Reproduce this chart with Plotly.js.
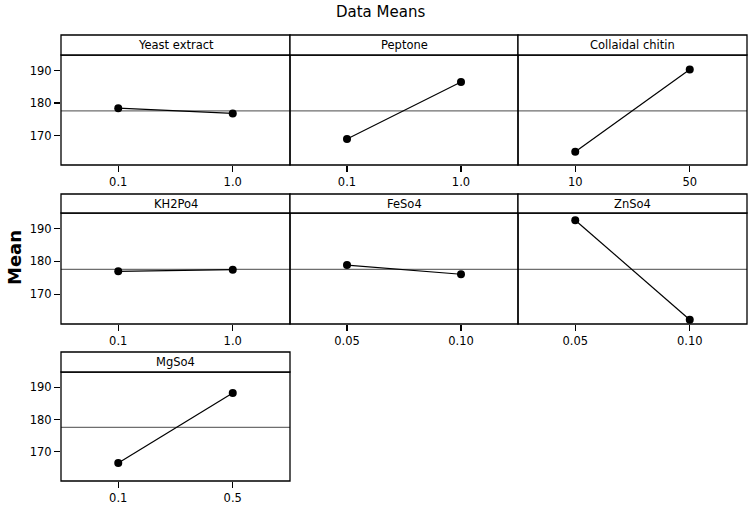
<!DOCTYPE html>
<html>
<head>
<meta charset="utf-8">
<script src="https://cdn.plot.ly/plotly-3.0.1.min.js"></script>
<style>body{margin:0;background:#fff}</style>
</head>
<body>
<div id="chart" style="width:749px;height:506px"></div>
<script>
// main effects plot, data means
var factorNames = ["Yeast extract", "Peptone", "Collaidal chitin", "KH2Po4", "FeSo4", "ZnSo4", "MgSo4"];
var levelLabels = [["0.1", "1.0"], ["0.1", "1.0"], ["10", "50"], ["0.1", "1.0"], ["0.05", "0.10"], ["0.05", "0.10"], ["0.1", "0.5"]];
var meanValues = [[178.4, 176.8], [168.9, 186.5], [165.0, 190.3], [177.0, 177.5], [178.9, 176.1], [192.6, 162.2], [166.5, 188.3]];
var grandMean = 177.6;
var yTicks = [170, 180, 190];

// pixel layout of the grid
var W = 749, H = 506;
var mL = 61, mR = 2, mT = 35, mB = 24;
var plotW = W - mL - mR, plotH = H - mT - mB;
var colEdges = [61, 290, 518, 747];
var headTop = [35, 194, 352];
var rowTop = [55, 213, 372];
var rowBot = [165, 324, 481];

function fx(px) { return (px - mL) / plotW; }
function fy(py) { return (H - mB - py) / plotH; }

var data = [];
var layout = {
  width: W, height: H,
  margin: {l: mL, r: mR, t: mT, b: mB},
  paper_bgcolor: "white", plot_bgcolor: "white",
  showlegend: false,
  font: {family: "DejaVu Sans", size: 11.5, color: "#000"},
  shapes: [], annotations: []
};

factorNames.forEach(function (name, i) {
  var n = i + 1;
  var row = Math.floor(i / 3), col = i % 3;
  var xk = n === 1 ? "xaxis" : "xaxis" + n;
  var yk = n === 1 ? "yaxis" : "yaxis" + n;
  var xr = n === 1 ? "x" : "x" + n;
  var yr = n === 1 ? "y" : "y" + n;

  data.push({
    x: levelLabels[i], y: meanValues[i],
    xaxis: xr, yaxis: yr,
    type: "scatter", mode: "lines+markers",
    line: {color: "#000", width: 1.2},
    marker: {color: "#000", size: 8},
    hoverinfo: "skip"
  });

  layout[xk] = {
    domain: [fx(colEdges[col]), fx(colEdges[col + 1])],
    anchor: yr, type: "category", range: [-0.5, 1.5],
    showline: false, showgrid: false, zeroline: false,
    ticks: "outside", ticklen: 6, tickcolor: "#000", tickwidth: 1.2,
    tickfont: {size: 11.5}
  };
  layout[yk] = {
    domain: [fy(rowBot[row]), fy(rowTop[row])],
    anchor: xr, range: [160.9, 194.8],
    tickvals: yTicks,
    showline: false, showgrid: false, zeroline: false,
    ticks: col === 0 ? "outside" : "", ticklen: 6, tickcolor: "#000", tickwidth: 1.2,
    showticklabels: col === 0,
    tickfont: {size: 11.5}
  };

  // grand mean reference line
  layout.shapes.push({
    type: "line", xref: xr + " domain", yref: yr, layer: "below",
    x0: 0, x1: 1, y0: grandMean, y1: grandMean,
    line: {color: "#6e6e6e", width: 1.3}
  });

  // panel frame
  layout.shapes.push({
    type: "rect", xref: xr + " domain", yref: yr + " domain",
    x0: 0, x1: 1, y0: 0, y1: 1,
    line: {color: "#000", width: 1.3}
  });

  // header strip
  layout.shapes.push({
    type: "rect", xref: "paper", yref: "paper",
    x0: fx(colEdges[col]), x1: fx(colEdges[col + 1]),
    y0: fy(rowTop[row]), y1: fy(headTop[row]),
    line: {color: "#000", width: 1.3}, fillcolor: "white"
  });
  layout.annotations.push({
    text: name, xref: "paper", yref: "paper",
    x: (fx(colEdges[col]) + fx(colEdges[col + 1])) / 2,
    y: (fy(rowTop[row]) + fy(headTop[row])) / 2,
    xanchor: "center", yanchor: "middle", showarrow: false,
    font: {size: 11.5}
  });
});

layout.annotations.push({
  text: "Data Means", xref: "paper", yref: "paper",
  x: fx(380), y: fy(12), xanchor: "center", yanchor: "middle",
  showarrow: false, font: {size: 15}
});
layout.annotations.push({
  text: "<b>Mean</b>", xref: "paper", yref: "paper",
  x: fx(14), y: fy(258), xanchor: "center", yanchor: "middle",
  textangle: -90, showarrow: false, font: {size: 18}
});

Plotly.newPlot("chart", data, layout, {displayModeBar: false, staticPlot: true});
</script>
</body>
</html>
